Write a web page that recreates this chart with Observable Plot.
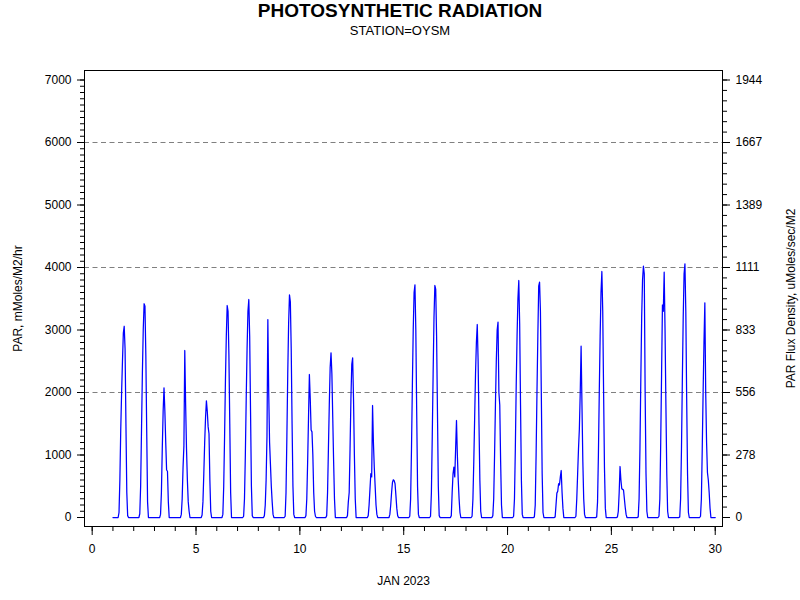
<!DOCTYPE html>
<html><head><meta charset="utf-8">
<script src="https://cdn.jsdelivr.net/npm/d3@7"></script>
<script src="https://cdn.jsdelivr.net/npm/@observablehq/plot@0.6"></script>
<style>
body{margin:0;background:#fff;font-family:"Liberation Sans",Arial,sans-serif;}
#wrap{width:800px;height:600px;overflow:hidden;background:#fff;}
#title{height:22px;line-height:22px;text-align:center;font-weight:bold;font-size:19px;color:#000;}
#sub{height:23px;line-height:18px;text-align:center;font-size:13px;color:#000;}
</style></head><body>
<div id="wrap"><div id="title">PHOTOSYNTHETIC RADIATION</div><div id="sub">STATION=OYSM</div><div id="chart"></div></div>
<script>
// Days of January 2023 and daytime hours (values outside these hours are 0 at night)
const days = [1,2,3,4,5,6,7,8,9,10,11,12,13,14,15,16,17,18,19,20,21,22,23,24,25,26,27,28,29];
const dayHours = [6,7,8,9,10,11,12,13,14,15,16,17,18];
// PAR, mMoles/M2/hr for hours 6..18 of each day
const parByDay = [
  [0, 80, 600, 1400, 2000, 2500, 2950, 3060, 2700, 1500, 400, 30, 0],
  [0, 60, 500, 1400, 2300, 3000, 3420, 3380, 2600, 1400, 250, 0, 0],
  [0, 50, 400, 1100, 1700, 2075, 1700, 1200, 760, 740, 250, 0, 0],
  [0, 50, 300, 800, 1150, 2672, 1800, 1100, 600, 250, 100, 0, 0],
  [0, 40, 250, 700, 1200, 1600, 1867, 1700, 1450, 1340, 600, 100, 0],
  [0, 50, 500, 1300, 2200, 2900, 3392, 3300, 2600, 1500, 400, 0, 0],
  [0, 20, 300, 1000, 1900, 2700, 3300, 3488, 2900, 1700, 500, 30, 0],
  [0, 30, 200, 600, 1300, 3168, 2000, 1200, 850, 500, 250, 50, 0],
  [0, 20, 400, 1300, 2300, 3100, 3563, 3450, 2700, 1500, 500, 50, 0],
  [0, 30, 300, 900, 1600, 2288, 1900, 1400, 1370, 1000, 400, 100, 20],
  [0, 30, 400, 1100, 1800, 2400, 2635, 2300, 1600, 900, 300, 0, 0],
  [0, 30, 250, 400, 1100, 1900, 2450, 2555, 1900, 1000, 300, 0, 0],
  [0, 30, 200, 450, 700, 650, 1792, 1200, 800, 500, 200, 50, 0],
  [0, 0, 50, 200, 400, 560, 603, 590, 540, 350, 150, 30, 0],
  [0, 20, 300, 1100, 2100, 3000, 3600, 3723, 3000, 1700, 500, 50, 0],
  [0, 20, 400, 1300, 2300, 3200, 3712, 3650, 2900, 1700, 500, 30, 0],
  [0, 30, 400, 700, 805, 650, 1100, 1552, 1000, 600, 300, 80, 0],
  [0, 20, 300, 900, 1600, 2300, 2800, 3088, 2500, 1500, 600, 100, 0],
  [0, 30, 300, 1000, 1800, 2500, 3000, 3125, 2000, 1800, 900, 200, 0],
  [0, 20, 300, 1100, 2100, 2900, 3500, 3792, 3100, 1800, 600, 50, 0],
  [0, 10, 200, 1000, 2000, 2900, 3700, 3765, 3300, 2000, 700, 80, 0],
  [0, 10, 200, 390, 420, 540, 520, 650, 752, 400, 150, 0, 0],
  [0, 20, 300, 700, 1100, 1420, 2000, 2741, 1800, 900, 300, 50, 0],
  [0, 10, 250, 1000, 2000, 2900, 3600, 3936, 3300, 2000, 800, 150, 0],
  [0, 10, 100, 400, 816, 600, 460, 450, 440, 300, 160, 50, 0],
  [0, 10, 300, 1100, 2200, 3200, 3800, 4021, 3900, 2000, 700, 100, 0],
  [0, 20, 300, 1200, 2300, 3400, 3300, 3925, 3000, 1800, 700, 100, 0],
  [0, 10, 300, 1100, 2200, 3200, 3900, 4059, 3300, 1900, 700, 80, 0],
  [0, 20, 300, 1100, 2000, 2800, 3435, 2000, 1200, 720, 600, 400, 150]
];
const endDay = 30;

const xMajor = [0, 5, 10, 15, 20, 25, 30];
const xMinor = d3.range(0, 31, 1);
const leftMajor = [0, 1000, 2000, 3000, 4000, 5000, 6000, 7000];
const leftMinor = d3.range(0, 7001, 100);
const rightLabels = ["0", "278", "556", "833", "1111", "1389", "1667", "1944"];
const rightMinor = d3.range(0, 43).map(k => k * 1000 / 6);
const gridValues = [2000, 4000, 6000];

const yTitle = "PAR, mMoles/M2/hr";
const y2Title = "PAR Flux Density, uMoles/sec/M2";
const xTitle = "JAN 2023";

// build hourly series
const series = [];
days.forEach((d, i) => {
  for (let h = 0; h < 24; h++) {
    const k = dayHours.indexOf(h);
    series.push({x: d + h / 24, y: k >= 0 ? parByDay[i][k] : 0});
  }
});
series.push({x: endDay, y: 0});

const font = '"Liberation Sans", Arial, sans-serif';
const chart = Plot.plot({
  width: 800, height: 555,
  marginLeft: 84, marginRight: 78, marginTop: 25, marginBottom: 74,
  x: {domain: [-0.37, 30.35]},
  y: {domain: [-144, 7152]},
  style: {fontFamily: font, fontSize: "12px", background: "white", color: "black"},
  marks: [
    Plot.ruleY(gridValues, {stroke: "#808080", strokeDasharray: "5,3.5", strokeWidth: 1}),
    Plot.line(series, {x: "x", y: "y", stroke: "#0000ff", strokeWidth: 1.25}),
    Plot.axisY(leftMinor, {anchor: "left", tickSize: 4, tickFormat: () => "", label: null}),
    Plot.axisY(leftMajor, {anchor: "left", tickSize: 7, tickPadding: 6, label: null, tickFormat: d => String(d)}),
    Plot.axisY(rightMinor, {anchor: "right", tickSize: 4, tickFormat: () => "", label: null}),
    Plot.axisY(leftMajor, {anchor: "right", tickSize: 7, tickPadding: 6, label: null, tickFormat: d => rightLabels[leftMajor.indexOf(d)]}),
    Plot.axisX(xMinor, {anchor: "bottom", tickSize: 5, tickFormat: () => "", label: null}),
    Plot.axisX(xMajor, {anchor: "bottom", tickSize: 9, tickPadding: 9, label: null, tickFormat: d => String(d)}),
    Plot.frame({stroke: "black", strokeWidth: 1}),
    Plot.text([yTitle], {text: d => d, frameAnchor: "left", textAnchor: "middle", rotate: -90, dx: -66, fontSize: 12}),
    Plot.text([y2Title], {text: d => d, frameAnchor: "right", textAnchor: "middle", rotate: -90, dx: 69, fontSize: 12}),
    Plot.text([xTitle], {text: d => d, frameAnchor: "bottom", dy: 58, fontSize: 12})
  ]
});
document.getElementById("chart").appendChild(chart);
</script>
</body></html>
